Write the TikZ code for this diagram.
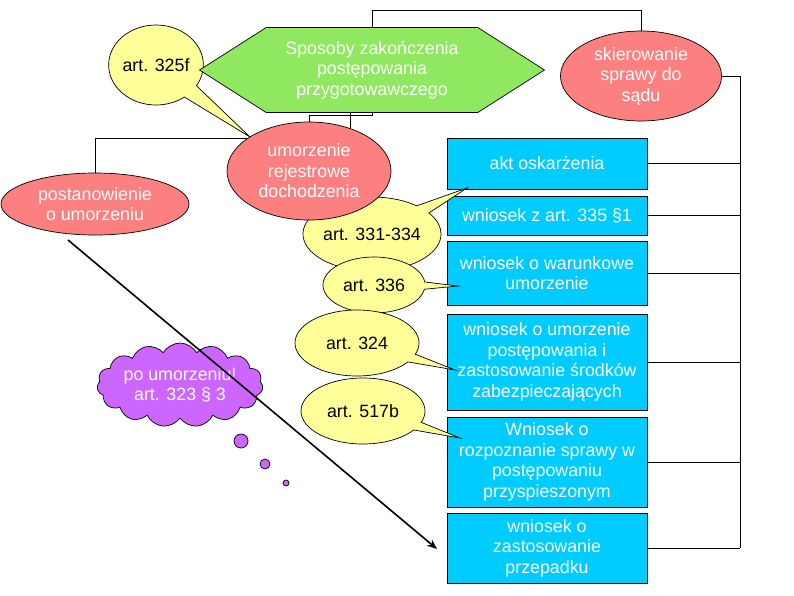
\documentclass[tikz,border=0pt]{standalone}
\usepackage{fontspec}
\setmainfont{Liberation Sans}
\usetikzlibrary{shapes.geometric,shapes.symbols,shapes.callouts,arrows.meta}
\pgfdeclarelayer{bg}
\pgfsetlayers{bg,main}
\definecolor{rootgreen}{RGB}{143,232,96}
\definecolor{salmon}{RGB}{252,128,128}
\definecolor{noteyellow}{RGB}{255,255,153}
\definecolor{boxblue}{RGB}{0,204,255}
\definecolor{cloudpurple}{RGB}{204,102,255}

\begin{document}
\begin{tikzpicture}[x=1pt, y=-1pt, line width=0.7pt,
  every node/.style={font=\fontsize{17.8}{20.5}\selectfont, align=center, inner sep=0pt},
  rootbox/.style={signal, signal to=west and east, signal pointer angle=65,
    draw, fill=rootgreen, text=white, minimum width=345, minimum height=85},
  wayoval/.style={ellipse, draw, fill=salmon, text=white},
  motion/.style={rectangle, draw, fill=boxblue, text=white, minimum width=200},
  note/.style={ellipse callout, draw, fill=noteyellow, text=black},
  link/.style={line width=1pt}]

\useasboundingbox (0,0) rectangle (794,595);

% wnioski konczace postepowanie
\node[motion, minimum height=51] (akt)     at (547,163.5) {akt oskarżenia};
\node[motion, minimum height=39] (wn335)   at (547,215.5) {wniosek z art. 335 §1};
\node[motion, minimum height=64] (wnwar)   at (547,273)   {wniosek o warunkowe\\umorzenie};
\node[motion, minimum height=96] (wnzab)   at (547,362)   {wniosek o umorzenie\\postępowania i\\zastosowanie środków\\zabezpieczających};
\node[motion, minimum height=90] (wnprz)   at (547,462)   {Wniosek o\\rozpoznanie sprawy w\\postępowaniu\\przyspieszonym};
\node[motion, minimum height=70] (wnprzep) at (547,548)   {wniosek o\\zastosowanie\\przepadku};

% przepisy
\node[note, minimum width=86, minimum height=80, callout pointer arc=22,
  callout absolute pointer={(250,137)}] (c325) at (156,65) {art. 325f};
\node[note, minimum width=130, minimum height=74,
  callout absolute pointer={(467,188)}] (c331) at (372,234) {art. 331-334};
\node[note, minimum width=102, minimum height=56,
  callout absolute pointer={(458,286)}] (c336) at (374,285) {art. 336};
\node[note, minimum width=124, minimum height=66,
  callout absolute pointer={(455,370)}] (c324) at (357,343) {art. 324};
\node[note, minimum width=124, minimum height=66,
  callout absolute pointer={(460,438)}] (c517) at (363,411) {art. 517b};

% sposoby zakonczenia
\node[wayoval, minimum width=164, minimum height=98] (umorz)  at (309,171) {umorzenie\\rejestrowe\\dochodzenia};
\node[wayoval, minimum width=188, minimum height=62] (postan) at (95,204)  {postanowienie\\o umorzeniu};
\node[wayoval, minimum width=161, minimum height=90] (skier)  at (641,76)  {skierowanie\\sprawy do\\sądu};
\node[rootbox] (root) at (372,70) {Sposoby zakończenia\\postępowania\\przygotowawczego};

% dymek
\node[cloud, cloud puffs=15, cloud puff arc=120, cloud ignores aspect, draw,
  fill=cloudpurple, text=white, minimum width=166, minimum height=84] (cloud) at (180,385)
  {po umorzeniu!\\art. 323 § 3};
\node[circle, draw, fill=cloudpurple, minimum size=14] (bub1) at (241,441) {};
\node[circle, draw, fill=cloudpurple, minimum size=10] (bub2) at (265,464) {};
\node[circle, draw, fill=cloudpurple, minimum size=6]  (bub3) at (286,483) {};

\coordinate (arrS) at (68,240);
\coordinate (arrE) at (437,549);
\draw[line width=1.6pt, -{Stealth[length=10pt,width=8pt]}] (arrS) -- (arrE);

% polaczenia
\begin{pgfonlayer}{bg}
  \coordinate (j1)  at (350,138);
  \coordinate (j2)  at (372,10);
  \coordinate (j3)  at (309,115);
  \coordinate (bus) at (740,76);
  \draw[link] (root.center -| j1) -- (j1) -| (postan.north);
  \draw[link] (skier.north) |- (j2) |- (j3) -- (umorz.north);
  \draw[link] (skier.east) -- (skier.east -| bus) -- (wnprzep.east -| bus);
  \foreach \b in {akt,wn335,wnwar,wnzab,wnprz,wnprzep}
    \draw[link] (\b.east) -- (\b.east -| bus);
\end{pgfonlayer}

\end{tikzpicture}
\end{document}
